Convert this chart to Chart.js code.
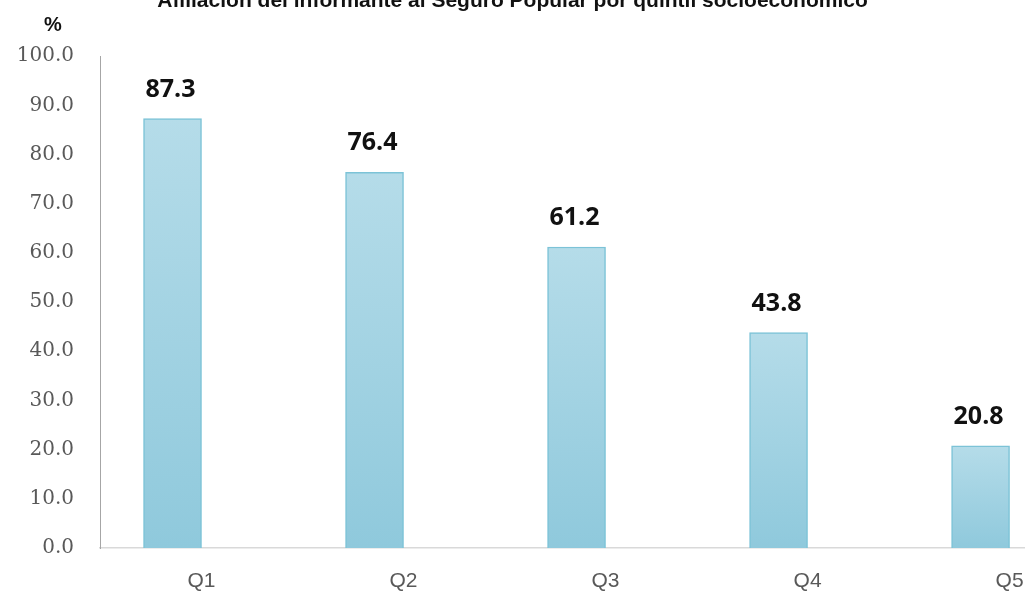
<!DOCTYPE html>
<html>
<head>
<meta charset="utf-8">
<script src="https://cdn.jsdelivr.net/npm/chart.js@4/dist/chart.umd.min.js"></script>
<style>
  html, body { margin: 0; padding: 0; background: #ffffff; overflow: hidden; }
  #wrap { position: absolute; left: 0; top: -11px; width: 1025px; height: 603px; }
</style>
</head>
<body>
<div id="wrap"><canvas id="c" width="1025" height="603"></canvas></div>
<script>
const titleText = "Afiliación del informante al Seguro Popular por quintil socioeconómico";
const unitLabel = "%";
const categories = ["Q1", "Q2", "Q3", "Q4", "Q5"];
const values = [87.3, 76.4, 61.2, 43.8, 20.8];
const yTicks = [0, 10, 20, 30, 40, 50, 60, 70, 80, 90, 100];

const barData = categories.map((c, i) => ({ x: i + 1, y: values[i] }));

function barFill(ctx) {
  const chart = ctx.chart;
  if (!chart.chartArea || ctx.type !== 'data') return '#a6d3e2';
  const ys = chart.scales.y;
  const v = ctx.raw.y;
  const top = ys.getPixelForValue(v);
  const bot = ys.getPixelForValue(0);
  const g = chart.ctx.createLinearGradient(0, top, 0, bot);
  g.addColorStop(0, '#b5dce9');
  g.addColorStop(1, '#8fc9dc');
  return g;
}

const extras = {
  id: 'extras',
  afterDatasetsDraw(chart) {
    const ctx = chart.ctx;
    ctx.save();
    const meta = chart.getDatasetMeta(0);
    ctx.fillStyle = '#111111';
    ctx.font = 'bold 25px "Open Sans", "Liberation Sans", sans-serif';
    ctx.textAlign = 'center';
    ctx.textBaseline = 'alphabetic';
    meta.data.forEach((el, i) => {
      ctx.fillText(values[i].toFixed(1), el.x - 2, el.y - 22);
    });
    ctx.font = 'bold 20px "Liberation Sans", sans-serif';
    ctx.fillStyle = '#111111';
    ctx.textBaseline = 'middle';
    ctx.fillText(unitLabel, 53, 36);
    ctx.restore();
  }
};

new Chart(document.getElementById('c'), {
  type: 'bar',
  data: {
    datasets: [{
      data: barData,
      backgroundColor: barFill,
      borderColor: '#7cc3d7',
      borderWidth: 1.5,
      barThickness: 58
    }]
  },
  options: {
    responsive: false,
    animation: false,
    layout: { padding: { top: 0, left: 0, right: 0, bottom: 0 } },
    plugins: {
      legend: { display: false },
      tooltip: { enabled: false },
      title: {
        display: true,
        text: titleText,
        color: '#111111',
        font: { family: '"Liberation Sans", sans-serif', size: 21, weight: 'bold', lineHeight: 1.2 },
        padding: { top: 0, bottom: 42 }
      }
    },
    scales: {
      x: {
        type: 'linear',
        min: 0.641,
        max: 5.22,
        offset: false,
        grid: { display: false, drawTicks: false },
        border: { display: true, color: '#d9d9d9', width: 1.5 },
        afterBuildTicks(scale) { scale.ticks = categories.map((c, i) => ({ value: i + 1 })); },
        afterFit(scale) { scale.height = 44; },
        ticks: {
          autoSkip: false,
          maxRotation: 0,
          padding: 21,
          labelOffset: 29,
          color: '#595959',
          font: { family: '"Liberation Sans", sans-serif', size: 21 },
          callback: (v) => categories[Math.round(v) - 1]
        }
      },
      y: {
        min: 0,
        max: 100,
        grid: { display: false, drawTicks: false },
        border: { display: true, color: '#a6a6a6', width: 1 },
        afterBuildTicks(scale) { scale.ticks = yTicks.map(v => ({ value: v })); },
        afterFit(scale) { scale.width = 100; },
        ticks: {
          padding: 26,
          color: '#595959',
          font: { family: '"DejaVu Serif", serif', size: 20 },
          callback: (v) => Number(v).toFixed(1)
        }
      }
    }
  },
  plugins: [extras]
});
</script>
</body>
</html>
